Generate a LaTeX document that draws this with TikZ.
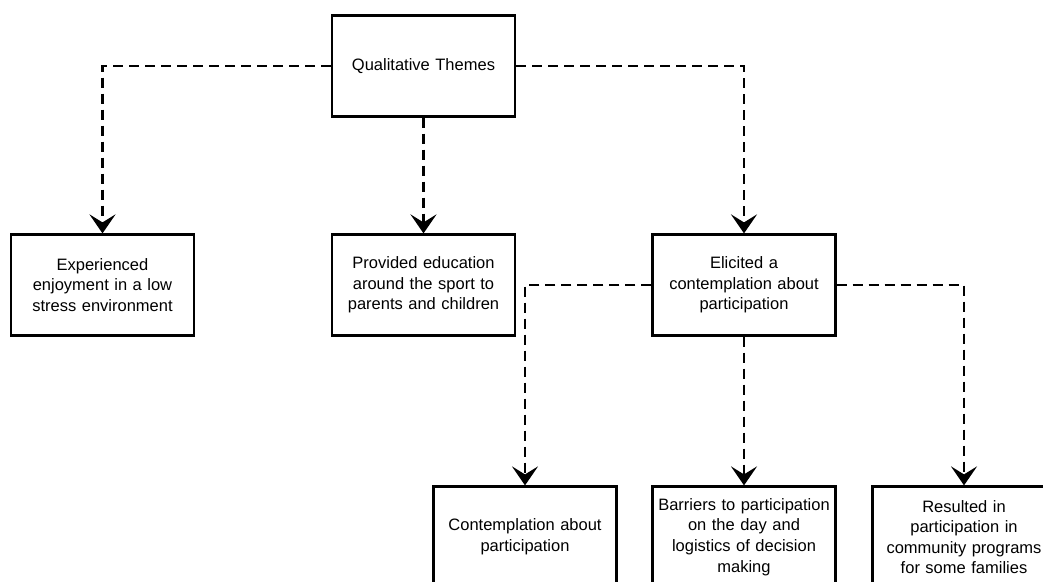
\documentclass[tikz,border=0pt]{standalone}
\usepackage{fontspec}
\setmainfont{Liberation Sans}
\usetikzlibrary{arrows.meta}

\begin{document}
\begin{tikzpicture}[x=1pt, y=1pt,
        theme/.style={draw, line width=2.2pt, minimum width=183pt, minimum height=101pt,
            text width=178pt, align=center, inner sep=0pt,
            font=\fontsize{16.5}{20.6}\selectfont},
        conn/.style={line width=2.8pt, dash pattern=on 10pt off 6pt,
            -{Stealth[length=19pt, width=26pt, inset=8pt]}}]
        \clip (0,0) rectangle (1043,-581);

        % Top theme
        \node[theme] (qt) at (423.5,-66) {Qualitative Themes};

        % Main themes
        \node[theme] (exp) at (102.5,-285) {Experienced\\enjoyment in a low\\stress environment};
        \node[theme] (edu) at (423.5,-285) {Provided education\\around the sport to\\parents and children};
        \node[theme] (eli) at (744,-285) {Elicited a\\contemplation about\\participation};

        % Sub themes
        \node[theme] (con) at (525,-537) {Contemplation about\\participation};
        \node[theme] (bar) at (744,-537) {Barriers to participation\\on the day and\\logistics of decision\\making};
        \node[theme] (res) at (964,-537) {Resulted in\\participation in\\community programs\\for some families};

        % Connections
        \draw[conn] (qt.west) -| (exp.north);
        \draw[conn] (qt.south) -- (edu.north);
        \draw[conn] (qt.east) -| (eli.north);
        \draw[conn] (eli.west) -| (con.north);
        \draw[conn] (eli.south) -- (bar.north);
        \draw[conn] (eli.east) -| (res.north);
    \end{tikzpicture}
\end{document}
